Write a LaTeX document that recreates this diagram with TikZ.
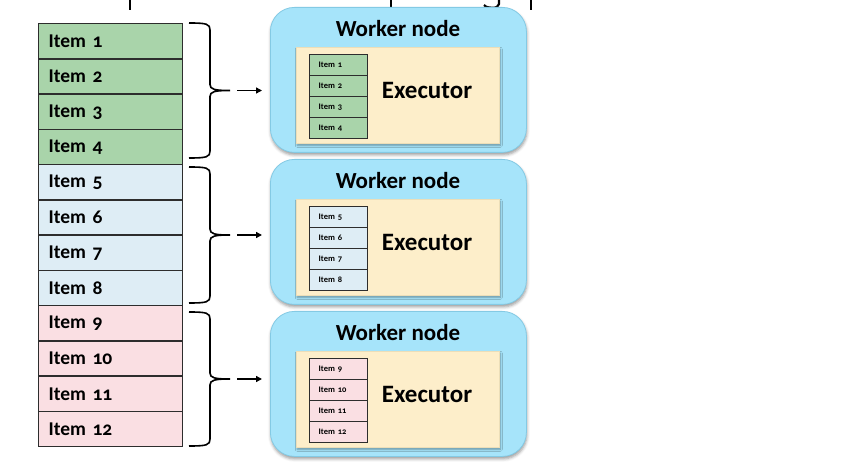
\documentclass[tikz,border=0pt]{standalone}
\usepackage{fontspec}
\setmainfont{Carlito}[Numbers=OldStyle]
\usetikzlibrary{shadows.blur,arrows.meta}

\definecolor{grpA}{RGB}{169,212,170}
\definecolor{grpB}{RGB}{222,237,245}
\definecolor{grpC}{RGB}{250,223,227}
\definecolor{workerfill}{RGB}{166,228,250}
\definecolor{workerline}{RGB}{132,202,228}
\definecolor{execfill}{RGB}{253,238,202}
\definecolor{execline}{RGB}{236,222,184}
\definecolor{itemline}{RGB}{45,45,45}

% curly brace spanning #1..#2 (y grows downward), tip coordinate named #3
\newcommand\groupbrace[3]{%
  \pgfmathsetmacro\bmid{(#1+#2)/2}
  \draw[bracestroke] (189,#1) .. controls (207,#1) and (210,#1+1) .. (210,#1+7)
    -- (210,\bmid-6) .. controls (210,\bmid-1) and (215,\bmid) .. (230,\bmid)
    .. controls (215,\bmid) and (210,\bmid+1) .. (210,\bmid+6)
    -- (210,#2-7) .. controls (210,#2-1) and (207,#2) .. (189,#2);
  \coordinate (#3) at (230,\bmid);
}

\begin{document}
\begin{tikzpicture}[x=1pt,y=-1pt,
  item/.style={draw=itemline, line width=1.4pt, anchor=north west,
    minimum width=144pt, minimum height=35.25pt, text width=124pt,
    inner xsep=10pt, inner ysep=0pt, align=left,
    font=\fontsize{19.5}{21}\selectfont\bfseries},
  smallitem/.style={draw=itemline, line width=1.3pt, anchor=north west,
    minimum width=58pt, minimum height=21pt, text width=40pt,
    inner xsep=9pt, inner ysep=0pt, align=left,
    font=\fontsize{8.5}{9}\selectfont\bfseries},
  worker/.style={draw=workerline, fill=workerfill, line width=0.8pt,
    rounded corners=24pt, anchor=north west,
    minimum width=256pt, minimum height=145pt,
    blur shadow={shadow xshift=0.5pt, shadow yshift=-2.5pt,
      shadow blur radius=3pt, shadow opacity=40}},
  executor/.style={draw=execline, fill=execfill, line width=0.6pt,
    anchor=north west, minimum width=203pt, minimum height=96pt,
    blur shadow={shadow xshift=1pt, shadow yshift=-2pt,
      shadow blur radius=2pt, shadow opacity=35}},
  worktitle/.style={font=\fontsize{23}{25}\selectfont\bfseries, inner sep=0pt},
  exectitle/.style={font=\fontsize{25}{27}\selectfont\bfseries, inner sep=0pt},
  bracestroke/.style={draw=black, line width=1.6pt},
  feed/.style={draw=black, line width=1.4pt,
    -{Triangle[length=6pt,width=6pt]}, shorten <=7pt, shorten >=8pt},
]
\useasboundingbox (0,0) rectangle (868,462);

% descenders of the heading line above the frame
\begin{scope}[line width=2.2pt, line cap=butt]
  \draw (130,0) -- (130,10);
  \draw (391,0) -- (391,10);
  \draw (499,0) -- (499,4) .. controls (499,9) and (487,9) .. (484,5);
  \draw (531,0) -- (531,10);
\end{scope}

% the list of twelve items
\foreach \n in {1,...,12} {
  \pgfmathtruncatemacro\g{int((\n-1)/4)}
  \ifcase\g \def\gc{grpA}\or \def\gc{grpB}\else \def\gc{grpC}\fi
  \node[item, fill=\gc] (i\n) at (38,{23+35.25*(\n-1)}) {Item \n};
}

% one worker node per group of four items
\foreach \g/\T/\gc in {1/7/grpA, 2/159/grpB, 3/311/grpC} {
  \node[worker] (w\g) at (270,\T) {};
  \node[worktitle] (wt\g) at (398,\T+22) {Worker node};
  \node[executor] (e\g) at (296,\T+40) {};
  \node[exectitle] (et\g) at (427,\T+83) {Executor};
  \foreach \k in {1,...,4} {
    \pgfmathtruncatemacro\num{(\g-1)*4+\k}
    \node[smallitem, fill=\gc] (s\num) at (309,{\T+47+21*(\k-1)}) {Item \num};
  }
}

% braces grouping the list, each feeding a worker node
\groupbrace{23}{158}{b1}
\groupbrace{167}{303}{b2}
\groupbrace{312}{446}{b3}
\draw[feed] (b1) -- (b1 -| w1.west);
\draw[feed] (b2) -- (b2 -| w2.west);
\draw[feed] (b3) -- (b3 -| w3.west);
\end{tikzpicture}
\end{document}
